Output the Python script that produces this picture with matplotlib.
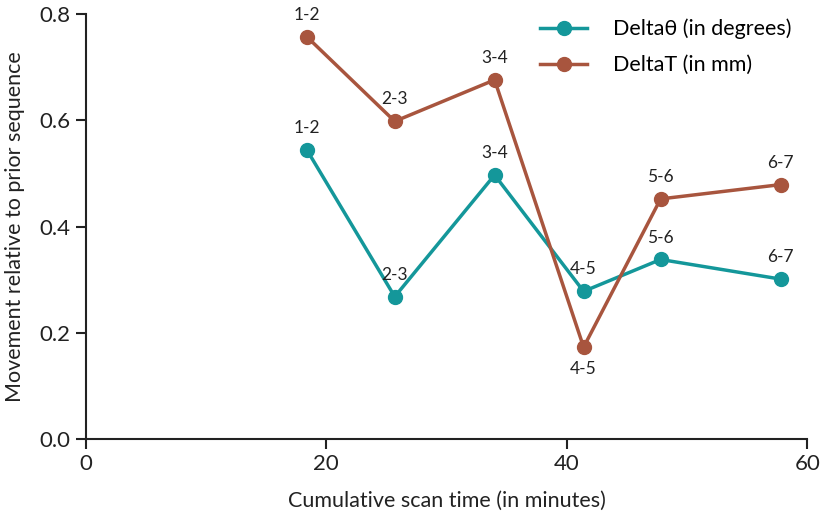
import matplotlib
matplotlib.use("Agg")
import matplotlib.pyplot as plt

plt.rcParams['font.family'] = ['Lato', 'DejaVu Sans']

time_min = [18.4, 25.7, 34.0, 41.4, 47.8, 57.8]
delta_theta = [0.544, 0.268, 0.497, 0.278, 0.338, 0.301]
delta_t = [0.757, 0.598, 0.676, 0.173, 0.452, 0.479]
seq_labels = ["1-2", "2-3", "3-4", "4-5", "5-6", "6-7"]

teal = "#14979A"
brown = "#A8553E"

fig = plt.figure(figsize=(8.23, 5.19), dpi=100)
ax = fig.add_axes([0.104, 0.154, 0.877, 0.819])

ax.plot(time_min, delta_theta, color=teal, lw=2.5, marker='o', ms=10,
        label="Delta\u03b8 (in degrees)", clip_on=False, zorder=3)
ax.plot(time_min, delta_t, color=brown, lw=2.5, marker='o', ms=10,
        label="DeltaT (in mm)", clip_on=False, zorder=3)

for x, y, s in zip(time_min, delta_theta, seq_labels):
    ax.annotate(s, (x, y), xytext=(0, 10), textcoords='offset points',
                ha='center', va='bottom', fontsize=12.5, color='#222222')
for x, y, s in zip(time_min, delta_t, seq_labels):
    if s == "4-5":
        ax.annotate(s, (x, y), xytext=(0, -10), textcoords='offset points',
                    ha='center', va='top', fontsize=12.5, color='#222222')
    else:
        ax.annotate(s, (x, y), xytext=(0, 10), textcoords='offset points',
                    ha='center', va='bottom', fontsize=12.5, color='#222222')

ax.set_xlim(0, 60)
ax.set_ylim(0, 0.8)
ax.set_xticks([0, 20, 40, 60])
ax.set_yticks([0.0, 0.2, 0.4, 0.6, 0.8])
ax.set_yticklabels(["0.0", "0.2", "0.4", "0.6", "0.8"])
for sp in ['top', 'right']:
    ax.spines[sp].set_visible(False)
for sp in ['left', 'bottom']:
    ax.spines[sp].set_linewidth(1.5)
    ax.spines[sp].set_color('#222222')
ax.tick_params(direction='out', length=7, width=1.5, colors='#222222',
               labelsize=16, pad=4)
ax.set_xlabel("Cumulative scan time (in minutes)", fontsize=15.5, color='#222222', labelpad=12)
ax.set_ylabel("Movement relative to prior sequence", fontsize=15.5, color='#222222', labelpad=10)

leg = ax.legend(loc='upper right', bbox_to_anchor=(1.005, 1.035), frameon=False,
                fontsize=15.5, handlelength=2.2, handletextpad=1.2, labelspacing=0.75)

fig.savefig("out.png", dpi=100)
